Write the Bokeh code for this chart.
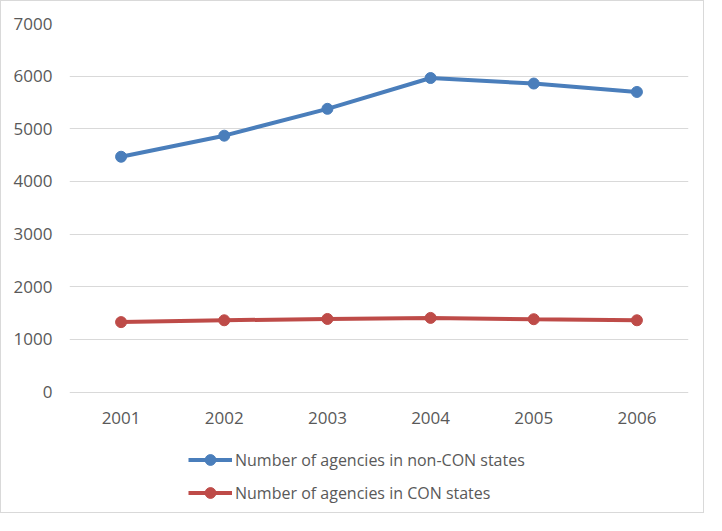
from bokeh.plotting import figure
from bokeh.models import Legend, LegendItem, ColumnDataSource, FixedTicker, Range1d
from bokeh.embed import file_html
from bokeh.resources import INLINE

years = ["2001", "2002", "2003", "2004", "2005", "2006"]
non_con = [4470, 4870, 5380, 5965, 5860, 5700]
con = [1330, 1365, 1390, 1410, 1385, 1365]
y_ticks = [0, 1000, 2000, 3000, 4000, 5000, 6000, 7000]
series_names = ["Number of agencies in non-CON states", "Number of agencies in CON states"]

BLUE = "#4A7EBB"
RED = "#BE4B48"
TEXT = "#595959"
FONT = "Open Sans"

p = figure(width=704, height=513, x_range=years, y_range=Range1d(-2323, 7000),
           output_backend="svg", toolbar_location=None,
           min_border_left=68, min_border_right=17, min_border_top=22, min_border_bottom=0)
p.styles = {"border": "1px solid #D9D9D9"}
p.outline_line_color = None
p.background_fill_color = "white"

src = ColumnDataSource(dict(year=years, non_con=non_con, con=con))

l1 = p.line("year", "non_con", source=src, color=BLUE, line_width=4)
s1 = p.scatter("year", "non_con", source=src, size=11, color=BLUE)
l2 = p.line("year", "con", source=src, color=RED, line_width=4)
s2 = p.scatter("year", "con", source=src, size=11, color=RED)

p.yaxis.ticker = FixedTicker(ticks=y_ticks)
p.xaxis.fixed_location = 0
for ax in (p.xaxis[0], p.yaxis[0]):
    ax.axis_line_color = None
    ax.major_tick_line_color = None
    ax.minor_tick_line_color = None
    ax.major_label_text_font = FONT
    ax.major_label_text_font_size = "17px"
    ax.major_label_text_color = TEXT
p.yaxis.major_label_standoff = 11
p.xaxis.major_label_standoff = 14

p.xgrid.grid_line_color = None
p.ygrid.grid_line_color = "#D9D9D9"
p.ygrid.grid_line_width = 1

legend = Legend(items=[LegendItem(label=series_names[0], renderers=[l1, s1]),
                       LegendItem(label=series_names[1], renderers=[l2, s2])],
                location=(119, 8), orientation="vertical",
                glyph_width=44, glyph_height=27, label_height=27, spacing=6,
                padding=5, margin=0, label_standoff=3,
                label_text_font=FONT, label_text_font_size="16px", label_text_color=TEXT,
                border_line_color=None, background_fill_alpha=0)
p.add_layout(legend, "center")

open("out.html", "w").write(file_html(p, INLINE))
